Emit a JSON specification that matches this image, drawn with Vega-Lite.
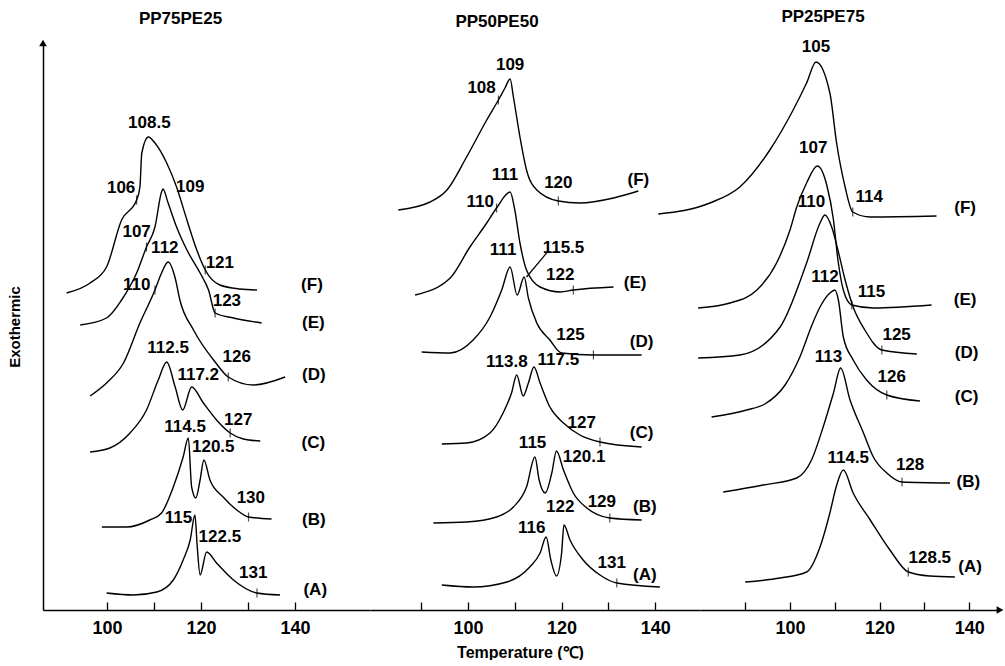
{
  "$schema": "https://vega.github.io/schema/vega-lite/v6.json",
  "background": "white",
  "padding": {"left": 7, "top": 8, "right": 0, "bottom": 0},
  "config": {
    "view": {"stroke": null},
    "font": "Liberation Sans",
    "title": {"font": "Liberation Sans", "fontSize": 17, "fontWeight": "bold", "color": "black", "offset": 12},
    "axis": {"grid": false, "domainColor": "black", "domainWidth": 1.5, "tickColor": "black", "tickWidth": 1.3, "labelColor": "black", "titleColor": "black", "labelFont": "Liberation Sans", "titleFont": "Liberation Sans", "labelFontWeight": "bold", "titleFontWeight": "bold"}
  },
  "datasets": {
    "curves": [
      {"panel":1,"curve":"F","temp":91.4,"h":317},{"panel":1,"curve":"F","temp":96.4,"h":327},{"panel":1,"curve":"F","temp":99.9,"h":343},{"panel":1,"curve":"F","temp":103.1,"h":390},{"panel":1,"curve":"F","temp":106.3,"h":410},{"panel":1,"curve":"F","temp":107.0,"h":423},{"panel":1,"curve":"F","temp":107.4,"h":457},{"panel":1,"curve":"F","temp":108.8,"h":473},{"panel":1,"curve":"F","temp":110.2,"h":467},{"panel":1,"curve":"F","temp":112.7,"h":447},{"panel":1,"curve":"F","temp":114.8,"h":423},{"panel":1,"curve":"F","temp":117.0,"h":390},{"panel":1,"curve":"F","temp":119.1,"h":360},{"panel":1,"curve":"F","temp":120.9,"h":340},{"panel":1,"curve":"F","temp":124.0,"h":325},{"panel":1,"curve":"F","temp":128.3,"h":321},{"panel":1,"curve":"F","temp":131.9,"h":320},
      {"panel":1,"curve":"E","temp":94.3,"h":285},{"panel":1,"curve":"E","temp":99.9,"h":292},{"panel":1,"curve":"E","temp":103.1,"h":310},{"panel":1,"curve":"E","temp":106.3,"h":337},{"panel":1,"curve":"E","temp":108.4,"h":363},{"panel":1,"curve":"E","temp":110.2,"h":383},{"panel":1,"curve":"E","temp":111.6,"h":418},{"panel":1,"curve":"E","temp":111.9,"h":421},{"panel":1,"curve":"E","temp":113.0,"h":407},{"panel":1,"curve":"E","temp":114.8,"h":383},{"panel":1,"curve":"E","temp":117.0,"h":360},{"panel":1,"curve":"E","temp":119.8,"h":337},{"panel":1,"curve":"E","temp":121.6,"h":320},{"panel":1,"curve":"E","temp":123.0,"h":297},{"panel":1,"curve":"E","temp":126.9,"h":292},{"panel":1,"curve":"E","temp":132.9,"h":287},
      {"panel":1,"curve":"D","temp":96.4,"h":214},{"panel":1,"curve":"D","temp":99.9,"h":227},{"panel":1,"curve":"D","temp":103.5,"h":247},{"panel":1,"curve":"D","temp":107.0,"h":287},{"panel":1,"curve":"D","temp":110.2,"h":320},{"panel":1,"curve":"D","temp":111.6,"h":337},{"panel":1,"curve":"D","temp":113.0,"h":348},{"panel":1,"curve":"D","temp":114.5,"h":332},{"panel":1,"curve":"D","temp":115.5,"h":310},{"panel":1,"curve":"D","temp":118.4,"h":280},{"panel":1,"curve":"D","temp":123.0,"h":248},{"panel":1,"curve":"D","temp":125.8,"h":233},{"panel":1,"curve":"D","temp":131.1,"h":225},{"panel":1,"curve":"D","temp":137.9,"h":233},
      {"panel":1,"curve":"C","temp":96.4,"h":158},{"panel":1,"curve":"C","temp":100.6,"h":162},{"panel":1,"curve":"C","temp":104.9,"h":177},{"panel":1,"curve":"C","temp":108.4,"h":200},{"panel":1,"curve":"C","temp":110.9,"h":230},{"panel":1,"curve":"C","temp":112.7,"h":248},{"panel":1,"curve":"C","temp":114.5,"h":223},{"panel":1,"curve":"C","temp":116.1,"h":200},{"panel":1,"curve":"C","temp":118.0,"h":223},{"panel":1,"curve":"C","temp":120.5,"h":207},{"panel":1,"curve":"C","temp":123.3,"h":190},{"panel":1,"curve":"C","temp":126.2,"h":177},{"panel":1,"curve":"C","temp":129.0,"h":171},{"panel":1,"curve":"C","temp":132.6,"h":169},
      {"panel":1,"curve":"B","temp":98.9,"h":83},{"panel":1,"curve":"B","temp":104.2,"h":83},{"panel":1,"curve":"B","temp":109.1,"h":90},{"panel":1,"curve":"B","temp":111.6,"h":97},{"panel":1,"curve":"B","temp":114.1,"h":123},{"panel":1,"curve":"B","temp":116.2,"h":153},{"panel":1,"curve":"B","temp":117.3,"h":172},{"panel":1,"curve":"B","temp":118.0,"h":123},{"panel":1,"curve":"B","temp":118.9,"h":112},{"panel":1,"curve":"B","temp":119.8,"h":130},{"panel":1,"curve":"B","temp":120.6,"h":150},{"panel":1,"curve":"B","temp":121.9,"h":130},{"panel":1,"curve":"B","temp":124.7,"h":113},{"panel":1,"curve":"B","temp":127.6,"h":100},{"panel":1,"curve":"B","temp":130.1,"h":93},{"panel":1,"curve":"B","temp":135.0,"h":91},
      {"panel":1,"curve":"A","temp":99.9,"h":17},{"panel":1,"curve":"A","temp":105.6,"h":15},{"panel":1,"curve":"A","temp":110.6,"h":18},{"panel":1,"curve":"A","temp":114.1,"h":30},{"panel":1,"curve":"A","temp":116.2,"h":50},{"panel":1,"curve":"A","temp":117.7,"h":70},{"panel":1,"curve":"A","temp":118.7,"h":95},{"panel":1,"curve":"A","temp":119.2,"h":63},{"panel":1,"curve":"A","temp":119.8,"h":35},{"panel":1,"curve":"A","temp":121.2,"h":58},{"panel":1,"curve":"A","temp":123.3,"h":47},{"panel":1,"curve":"A","temp":126.9,"h":30},{"panel":1,"curve":"A","temp":131.9,"h":17},{"panel":1,"curve":"A","temp":136.8,"h":15},
      {"panel":2,"curve":"F","temp":85.1,"h":400},{"panel":2,"curve":"F","temp":91.9,"h":408},{"panel":2,"curve":"F","temp":95.5,"h":420},{"panel":2,"curve":"F","temp":99.7,"h":453},{"panel":2,"curve":"F","temp":104.0,"h":490},{"panel":2,"curve":"F","temp":106.5,"h":510},{"panel":2,"curve":"F","temp":107.9,"h":522},{"panel":2,"curve":"F","temp":109.0,"h":531},{"panel":2,"curve":"F","temp":109.7,"h":513},{"panel":2,"curve":"F","temp":111.1,"h":473},{"panel":2,"curve":"F","temp":112.5,"h":440},{"panel":2,"curve":"F","temp":114.7,"h":420},{"panel":2,"curve":"F","temp":119.3,"h":409},{"panel":2,"curve":"F","temp":123.9,"h":407},{"panel":2,"curve":"F","temp":131.1,"h":412},{"panel":2,"curve":"F","temp":136.4,"h":419},
      {"panel":2,"curve":"E","temp":88.7,"h":315},{"panel":2,"curve":"E","temp":96.2,"h":332},{"panel":2,"curve":"E","temp":100.4,"h":363},{"panel":2,"curve":"E","temp":104.0,"h":387},{"panel":2,"curve":"E","temp":106.1,"h":402},{"panel":2,"curve":"E","temp":109.0,"h":418},{"panel":2,"curve":"E","temp":110.0,"h":400},{"panel":2,"curve":"E","temp":111.1,"h":367},{"panel":2,"curve":"E","temp":112.5,"h":340},{"panel":2,"curve":"E","temp":115.4,"h":323},{"panel":2,"curve":"E","temp":119.7,"h":318},{"panel":2,"curve":"E","temp":122.5,"h":320},{"panel":2,"curve":"E","temp":131.1,"h":323},
      {"panel":2,"curve":"D","temp":90.1,"h":258},{"panel":2,"curve":"D","temp":96.2,"h":257},{"panel":2,"curve":"D","temp":101.1,"h":270},{"panel":2,"curve":"D","temp":104.7,"h":293},{"panel":2,"curve":"D","temp":107.2,"h":320},{"panel":2,"curve":"D","temp":109.0,"h":343},{"panel":2,"curve":"D","temp":110.5,"h":315},{"panel":2,"curve":"D","temp":112.0,"h":333},{"panel":2,"curve":"D","temp":112.9,"h":312},{"panel":2,"curve":"D","temp":114.7,"h":287},{"panel":2,"curve":"D","temp":117.5,"h":270},{"panel":2,"curve":"D","temp":120.0,"h":257},{"panel":2,"curve":"D","temp":126.8,"h":255},{"panel":2,"curve":"D","temp":137.1,"h":255},
      {"panel":2,"curve":"C","temp":94.4,"h":166},{"panel":2,"curve":"C","temp":99.7,"h":167},{"panel":2,"curve":"C","temp":104.7,"h":177},{"panel":2,"curve":"C","temp":107.5,"h":197},{"panel":2,"curve":"C","temp":109.3,"h":217},{"panel":2,"curve":"C","temp":110.4,"h":235},{"panel":2,"curve":"C","temp":111.8,"h":214},{"panel":2,"curve":"C","temp":112.9,"h":227},{"panel":2,"curve":"C","temp":114.1,"h":243},{"panel":2,"curve":"C","temp":115.4,"h":227},{"panel":2,"curve":"C","temp":117.5,"h":203},{"panel":2,"curve":"C","temp":120.4,"h":187},{"panel":2,"curve":"C","temp":123.9,"h":175},{"panel":2,"curve":"C","temp":128.2,"h":168},{"panel":2,"curve":"C","temp":137.1,"h":163},
      {"panel":2,"curve":"B","temp":92.6,"h":87},{"panel":2,"curve":"B","temp":99.7,"h":88},{"panel":2,"curve":"B","temp":106.1,"h":93},{"panel":2,"curve":"B","temp":109.7,"h":103},{"panel":2,"curve":"B","temp":112.5,"h":123},{"panel":2,"curve":"B","temp":114.3,"h":153},{"panel":2,"curve":"B","temp":115.2,"h":130},{"panel":2,"curve":"B","temp":116.5,"h":117},{"panel":2,"curve":"B","temp":117.9,"h":137},{"panel":2,"curve":"B","temp":118.9,"h":159},{"panel":2,"curve":"B","temp":120.4,"h":140},{"panel":2,"curve":"B","temp":122.5,"h":117},{"panel":2,"curve":"B","temp":125.4,"h":102},{"panel":2,"curve":"B","temp":130.3,"h":92},{"panel":2,"curve":"B","temp":137.1,"h":90},
      {"panel":2,"curve":"A","temp":94.4,"h":25},{"panel":2,"curve":"A","temp":101.1,"h":23},{"panel":2,"curve":"A","temp":108.3,"h":28},{"panel":2,"curve":"A","temp":113.2,"h":43},{"panel":2,"curve":"A","temp":115.4,"h":57},{"panel":2,"curve":"A","temp":116.7,"h":73},{"panel":2,"curve":"A","temp":117.7,"h":50},{"panel":2,"curve":"A","temp":118.9,"h":34},{"panel":2,"curve":"A","temp":120.0,"h":57},{"panel":2,"curve":"A","temp":120.5,"h":85},{"panel":2,"curve":"A","temp":121.8,"h":70},{"panel":2,"curve":"A","temp":124.6,"h":50},{"panel":2,"curve":"A","temp":128.2,"h":35},{"panel":2,"curve":"A","temp":131.8,"h":27},{"panel":2,"curve":"A","temp":141.0,"h":23},
      {"panel":3,"curve":"F","temp":70.6,"h":396},{"panel":3,"curve":"F","temp":82.1,"h":407},{"panel":3,"curve":"F","temp":88.8,"h":423},{"panel":3,"curve":"F","temp":95.5,"h":460},{"panel":3,"curve":"F","temp":100.7,"h":500},{"panel":3,"curve":"F","temp":103.7,"h":527},{"panel":3,"curve":"F","temp":105.8,"h":548},{"panel":3,"curve":"F","temp":108.9,"h":517},{"panel":3,"curve":"F","temp":110.4,"h":467},{"panel":3,"curve":"F","temp":112.3,"h":423},{"panel":3,"curve":"F","temp":114.0,"h":398},{"panel":3,"curve":"F","temp":117.9,"h":393},{"panel":3,"curve":"F","temp":132.7,"h":394},
      {"panel":3,"curve":"E","temp":79.5,"h":302},{"panel":3,"curve":"E","temp":86.6,"h":307},{"panel":3,"curve":"E","temp":92.6,"h":320},{"panel":3,"curve":"E","temp":97.0,"h":347},{"panel":3,"curve":"E","temp":100.0,"h":380},{"panel":3,"curve":"E","temp":101.5,"h":403},{"panel":3,"curve":"E","temp":103.7,"h":427},{"panel":3,"curve":"E","temp":106.1,"h":444},{"panel":3,"curve":"E","temp":108.2,"h":425},{"panel":3,"curve":"E","temp":109.7,"h":390},{"panel":3,"curve":"E","temp":110.7,"h":350},{"panel":3,"curve":"E","temp":111.9,"h":320},{"panel":3,"curve":"E","temp":113.8,"h":305},{"panel":3,"curve":"E","temp":118.6,"h":302},{"panel":3,"curve":"E","temp":131.6,"h":305},
      {"panel":3,"curve":"D","temp":79.5,"h":252},{"panel":3,"curve":"D","temp":88.8,"h":255},{"panel":3,"curve":"D","temp":97.8,"h":283},{"panel":3,"curve":"D","temp":103.7,"h":347},{"panel":3,"curve":"D","temp":106.7,"h":387},{"panel":3,"curve":"D","temp":107.8,"h":395},{"panel":3,"curve":"D","temp":109.3,"h":383},{"panel":3,"curve":"D","temp":110.8,"h":358},{"panel":3,"curve":"D","temp":112.3,"h":330},{"panel":3,"curve":"D","temp":114.1,"h":303},{"panel":3,"curve":"D","temp":116.7,"h":280},{"panel":3,"curve":"D","temp":120.5,"h":260},{"panel":3,"curve":"D","temp":128.3,"h":256},
      {"panel":3,"curve":"C","temp":82.5,"h":193},{"panel":3,"curve":"C","temp":90.3,"h":200},{"panel":3,"curve":"C","temp":94.4,"h":206},{"panel":3,"curve":"C","temp":98.9,"h":225},{"panel":3,"curve":"C","temp":102.2,"h":253},{"panel":3,"curve":"C","temp":104.9,"h":285},{"panel":3,"curve":"C","temp":106.7,"h":303},{"panel":3,"curve":"C","temp":108.9,"h":317},{"panel":3,"curve":"C","temp":110.0,"h":320},{"panel":3,"curve":"C","temp":110.8,"h":310},{"panel":3,"curve":"C","temp":111.9,"h":273},{"panel":3,"curve":"C","temp":114.1,"h":250},{"panel":3,"curve":"C","temp":117.1,"h":230},{"panel":3,"curve":"C","temp":121.6,"h":215},{"panel":3,"curve":"C","temp":129.0,"h":209},
      {"panel":3,"curve":"B","temp":85.1,"h":118},{"panel":3,"curve":"B","temp":94.0,"h":125},{"panel":3,"curve":"B","temp":101.5,"h":132},{"panel":3,"curve":"B","temp":104.8,"h":150},{"panel":3,"curve":"B","temp":107.4,"h":183},{"panel":3,"curve":"B","temp":109.7,"h":217},{"panel":3,"curve":"B","temp":111.3,"h":242},{"panel":3,"curve":"B","temp":113.4,"h":210},{"panel":3,"curve":"B","temp":116.4,"h":177},{"panel":3,"curve":"B","temp":118.6,"h":153},{"panel":3,"curve":"B","temp":121.6,"h":137},{"panel":3,"curve":"B","temp":125.0,"h":128},{"panel":3,"curve":"B","temp":135.7,"h":127},
      {"panel":3,"curve":"A","temp":90.0,"h":28},{"panel":3,"curve":"A","temp":97.8,"h":32},{"panel":3,"curve":"A","temp":103.7,"h":38},{"panel":3,"curve":"A","temp":106.7,"h":63},{"panel":3,"curve":"A","temp":108.9,"h":97},{"panel":3,"curve":"A","temp":110.3,"h":123},{"panel":3,"curve":"A","temp":111.9,"h":140},{"panel":3,"curve":"A","temp":114.1,"h":117},{"panel":3,"curve":"A","temp":117.9,"h":90},{"panel":3,"curve":"A","temp":122.3,"h":60},{"panel":3,"curve":"A","temp":126.4,"h":38},{"panel":3,"curve":"A","temp":131.2,"h":34},{"panel":3,"curve":"A","temp":136.8,"h":33}
    ],
    "labels": [
      {"panel":1,"label":"108.5","temp":109.0,"h":487},{"panel":1,"label":"106","temp":103.0,"h":422},{"panel":1,"label":"109","temp":117.7,"h":423},{"panel":1,"label":"107","temp":106.3,"h":378},{"panel":1,"label":"112","temp":112.3,"h":362},{"panel":1,"label":"121","temp":124.0,"h":347},{"panel":1,"label":"110","temp":106.3,"h":325},{"panel":1,"label":"(F)","temp":143.6,"h":325},{"panel":1,"label":"123","temp":125.5,"h":309},{"panel":1,"label":"(E)","temp":143.9,"h":287},{"panel":1,"label":"112.5","temp":113.0,"h":262},{"panel":1,"label":"126","temp":127.6,"h":253},{"panel":1,"label":"117.2","temp":119.4,"h":235},{"panel":1,"label":"(D)","temp":144.0,"h":235},{"panel":1,"label":"127","temp":127.9,"h":190},{"panel":1,"label":"(C)","temp":143.9,"h":167},{"panel":1,"label":"114.5","temp":116.6,"h":183},{"panel":1,"label":"120.5","temp":122.6,"h":163},{"panel":1,"label":"130","temp":130.6,"h":112},{"panel":1,"label":"(B)","temp":144.0,"h":90},{"panel":1,"label":"115","temp":115.2,"h":92},{"panel":1,"label":"122.5","temp":124.0,"h":73},{"panel":1,"label":"131","temp":131.1,"h":37},{"panel":1,"label":"(A)","temp":144.3,"h":20},
      {"panel":2,"label":"109","temp":109.0,"h":545},{"panel":2,"label":"108","temp":102.9,"h":522},{"panel":2,"label":"111","temp":107.9,"h":435},{"panel":2,"label":"120","temp":119.3,"h":427},{"panel":2,"label":"(F)","temp":136.4,"h":430},{"panel":2,"label":"110","temp":102.6,"h":408},{"panel":2,"label":"111","temp":107.5,"h":360},{"panel":2,"label":"115.5","temp":120.4,"h":362},{"panel":2,"label":"122","temp":119.7,"h":335},{"panel":2,"label":"(E)","temp":135.7,"h":327},{"panel":2,"label":"125","temp":121.9,"h":275},{"panel":2,"label":"(D)","temp":137.1,"h":268},{"panel":2,"label":"113.8","temp":108.3,"h":248},{"panel":2,"label":"117.5","temp":119.3,"h":250},{"panel":2,"label":"127","temp":124.3,"h":187},{"panel":2,"label":"(C)","temp":137.1,"h":177},{"panel":2,"label":"115","temp":113.8,"h":167},{"panel":2,"label":"120.1","temp":124.8,"h":153},{"panel":2,"label":"129","temp":128.6,"h":108},{"panel":2,"label":"(B)","temp":137.8,"h":103},{"panel":2,"label":"122","temp":119.7,"h":103},{"panel":2,"label":"116","temp":113.6,"h":82},{"panel":2,"label":"131","temp":130.7,"h":47},{"panel":2,"label":"(A)","temp":137.8,"h":35},
      {"panel":3,"label":"105","temp":105.8,"h":563},{"panel":3,"label":"107","temp":105.2,"h":462},{"panel":3,"label":"110","temp":104.8,"h":408},{"panel":3,"label":"114","temp":117.7,"h":413},{"panel":3,"label":"(F)","temp":139.1,"h":402},{"panel":3,"label":"112","temp":107.8,"h":333},{"panel":3,"label":"115","temp":118.2,"h":318},{"panel":3,"label":"(E)","temp":139.1,"h":310},{"panel":3,"label":"125","temp":123.8,"h":275},{"panel":3,"label":"(D)","temp":139.4,"h":257},{"panel":3,"label":"113","temp":108.6,"h":253},{"panel":3,"label":"126","temp":122.7,"h":233},{"panel":3,"label":"(C)","temp":139.4,"h":213},{"panel":3,"label":"114.5","temp":113.0,"h":152},{"panel":3,"label":"128","temp":126.8,"h":145},{"panel":3,"label":"(B)","temp":139.8,"h":128},{"panel":3,"label":"128.5","temp":131.2,"h":52},{"panel":3,"label":"(A)","temp":140.2,"h":43}
    ],
    "marks": [
      {"panel":1,"temp":106.3,"h":410},{"panel":1,"temp":120.9,"h":340},{"panel":1,"temp":108.4,"h":363},{"panel":1,"temp":123.0,"h":297},{"panel":1,"temp":110.2,"h":320},{"panel":1,"temp":125.8,"h":233},{"panel":1,"temp":126.2,"h":177},{"panel":1,"temp":130.1,"h":93},{"panel":1,"temp":131.9,"h":17},
      {"panel":2,"temp":106.5,"h":510},{"panel":2,"temp":119.3,"h":409},{"panel":2,"temp":106.1,"h":402},{"panel":2,"temp":122.5,"h":320},{"panel":2,"temp":126.8,"h":255},{"panel":2,"temp":128.2,"h":168},{"panel":2,"temp":130.3,"h":92},{"panel":2,"temp":131.8,"h":27},
      {"panel":3,"temp":114.0,"h":398},{"panel":3,"temp":113.8,"h":305},{"panel":3,"temp":120.5,"h":260},{"panel":3,"temp":121.6,"h":215},{"panel":3,"temp":125.0,"h":128},{"panel":3,"temp":126.4,"h":38}
    ],
    "leaders": [
      {"panel":2,"temp":116.8,"h":357,"temp2":112.5,"h2":333}
    ],
    "arrows": [
      {"panel":1,"temp":86.38,"h":567,"shape":"triangle-up"},
      {"panel":3,"temp":146.87,"h":0,"shape":"triangle-right"}
    ]
  },
  "spacing": 0,
  "bounds": "flush",
  "hconcat": [
    {
      "width": 327, "height": 567,
      "title": {"text": "PP75PE25", "dx": -26},
      "encoding": {
        "x": {"field": "temp", "type": "quantitative", "scale": {"domain": [86.38, 155.95], "nice": false, "zero": false},
              "axis": {"title": null, "values": [100,110,120,130,140], "labelExpr": "datum.value % 20 == 0 ? datum.label : ''", "tickSize": -8, "labelPadding": 17, "labelFontSize": 18, "labelFlush": false, "labelOverlap": false}},
        "y": {"field": "h", "type": "quantitative", "scale": {"domain": [0, 567], "nice": false, "zero": false},
              "axis": {"title": "Exothermic", "labels": false, "ticks": false, "titleFontSize": 15, "titlePadding": 21}}
      },
      "layer": [
        {"data": {"name": "curves"}, "transform": [{"filter": "datum.panel == 1"}], "mark": {"type": "line", "color": "black", "strokeWidth": 1.4, "interpolate": "monotone"}, "encoding": {"detail": {"field": "curve"}}},
        {"data": {"name": "labels"}, "transform": [{"filter": "datum.panel == 1"}], "mark": {"type": "text", "fontSize": 17, "fontWeight": "bold", "color": "black", "align": "center", "baseline": "middle"}, "encoding": {"text": {"field": "label"}}},
        {"data": {"name": "marks"}, "transform": [{"filter": "datum.panel == 1"}], "mark": {"type": "tick", "orient": "vertical", "size": 9, "thickness": 1.2, "color": "black"}},
        {"data": {"name": "arrows"}, "transform": [{"filter": "datum.panel == 1"}], "mark": {"type": "point", "filled": true, "color": "black", "size": 60, "opacity": 1}, "encoding": {"shape": {"field": "shape", "type": "nominal", "scale": null}}}
      ]
    },
    {
      "width": 330, "height": 567,
      "title": {"text": "PP50PE50", "dx": -38},
      "encoding": {
        "x": {"field": "temp", "type": "quantitative", "scale": {"domain": [79.06, 149.57], "nice": false, "zero": false},
              "axis": {"title": "Temperature (℃)", "titleX": 150, "titleY": 42, "titleAlign": "center", "titleBaseline": "middle", "titleFontSize": 16, "values": [90,100,110,120,130,140], "labelExpr": "datum.value % 20 == 0 ? datum.label : ''", "tickSize": -8, "labelPadding": 17, "labelFontSize": 18, "labelFlush": false, "labelOverlap": false}},
        "y": {"field": "h", "type": "quantitative", "scale": {"domain": [0, 567], "nice": false, "zero": false}, "axis": null}
      },
      "layer": [
        {"data": {"name": "curves"}, "transform": [{"filter": "datum.panel == 2"}], "mark": {"type": "line", "color": "black", "strokeWidth": 1.4, "interpolate": "monotone"}, "encoding": {"detail": {"field": "curve"}}},
        {"data": {"name": "labels"}, "transform": [{"filter": "datum.panel == 2"}], "mark": {"type": "text", "fontSize": 17, "fontWeight": "bold", "color": "black", "align": "center", "baseline": "middle"}, "encoding": {"text": {"field": "label"}}},
        {"data": {"name": "marks"}, "transform": [{"filter": "datum.panel == 2"}], "mark": {"type": "tick", "orient": "vertical", "size": 9, "thickness": 1.2, "color": "black"}},
        {"data": {"name": "leaders"}, "transform": [{"filter": "datum.panel == 2"}], "mark": {"type": "rule", "color": "black", "strokeWidth": 1.2}, "encoding": {"x2": {"field": "temp2"}, "y2": {"field": "h2"}}}
      ]
    },
    {
      "width": 300, "height": 567,
      "title": {"text": "PP25PE75", "dx": -27},
      "encoding": {
        "x": {"field": "temp", "type": "quantitative", "scale": {"domain": [79.91, 146.87], "nice": false, "zero": false},
              "axis": {"title": null, "values": [90,100,110,120,130,140], "labelExpr": "datum.value % 20 == 0 ? datum.label : ''", "tickSize": -8, "labelPadding": 17, "labelFontSize": 18, "labelFlush": false, "labelOverlap": false}},
        "y": {"field": "h", "type": "quantitative", "scale": {"domain": [0, 567], "nice": false, "zero": false}, "axis": null}
      },
      "layer": [
        {"data": {"name": "curves"}, "transform": [{"filter": "datum.panel == 3"}], "mark": {"type": "line", "color": "black", "strokeWidth": 1.4, "interpolate": "monotone"}, "encoding": {"detail": {"field": "curve"}}},
        {"data": {"name": "labels"}, "transform": [{"filter": "datum.panel == 3"}], "mark": {"type": "text", "fontSize": 17, "fontWeight": "bold", "color": "black", "align": "center", "baseline": "middle"}, "encoding": {"text": {"field": "label"}}},
        {"data": {"name": "marks"}, "transform": [{"filter": "datum.panel == 3"}], "mark": {"type": "tick", "orient": "vertical", "size": 9, "thickness": 1.2, "color": "black"}},
        {"data": {"name": "arrows"}, "transform": [{"filter": "datum.panel == 3"}], "mark": {"type": "point", "filled": true, "color": "black", "size": 60, "opacity": 1}, "encoding": {"shape": {"field": "shape", "type": "nominal", "scale": null}}}
      ]
    }
  ]
}
